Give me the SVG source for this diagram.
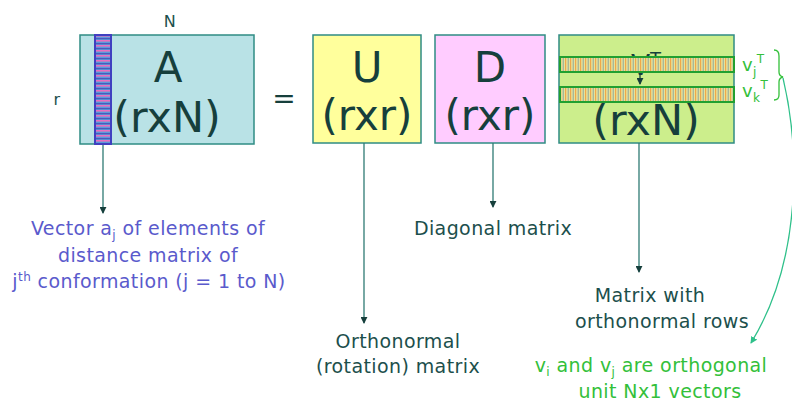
<svg xmlns="http://www.w3.org/2000/svg" width="792" height="404" viewBox="0 0 792 404">
<style>
.box{stroke:#2f8c84;stroke-width:1.5}
.big{font-family:"DejaVu Sans",sans-serif;font-size:42px;fill:#163f3c;text-anchor:middle}
.lbl{font-family:"DejaVu Sans",sans-serif;font-size:19px;letter-spacing:0.4px;fill:#1c4f4c;text-anchor:middle}
.blue{font-family:"DejaVu Sans",sans-serif;font-size:19px;letter-spacing:0.4px;fill:#5a5acc;text-anchor:middle}
.grn{font-family:"DejaVu Sans",sans-serif;font-size:19px;letter-spacing:0.4px;fill:#33c03a;text-anchor:middle}
.sub{font-size:12px}
.con{stroke:#2f7a74;stroke-width:1.3;fill:none}
</style>
<defs>
<marker id="ah" viewBox="0 0 8 8" refX="7" refY="4" markerWidth="7" markerHeight="7" orient="auto" markerUnits="userSpaceOnUse">
<path d="M0,0 L8,4 L0,8 z" fill="#163f3c"/>
</marker>
<marker id="ahg" viewBox="0 0 8 8" refX="7" refY="4" markerWidth="7" markerHeight="7" orient="auto" markerUnits="userSpaceOnUse">
<path d="M0,0 L8,4 L0,8 z" fill="#2fc08a"/>
</marker>
<pattern id="hstripe" width="16" height="5" patternUnits="userSpaceOnUse">
<rect width="16" height="5" fill="#5a9ad8"/>
<rect y="0" width="16" height="1.6" fill="#e870c0"/>
<rect y="3.2" width="16" height="1" fill="#4848b8"/>
</pattern>
<pattern id="vstripe" width="5" height="16" patternUnits="userSpaceOnUse">
<rect width="5" height="16" fill="#e6e29a"/>
<rect x="0" width="1.2" height="16" fill="#f0a848"/>
<rect x="2.6" width="1.4" height="16" fill="#a8b898"/>
</pattern>
</defs>

<g id="labels-axes">
<text x="170" y="27" class="lbl" style="font-size:16px">N</text>
<text x="57" y="105" class="lbl" style="font-size:16px">r</text>
<text x="284" y="108" class="big" style="font-size:28px">=</text>
</g>

<g id="A">
<rect class="box" x="80" y="35" width="174" height="109" fill="#b9e2e6"/>
<text x="168" y="82" class="big">A</text>
<text x="167" y="132" class="big" style="font-size:43px">(rxN)</text>
<rect x="95" y="35" width="16" height="109" fill="url(#hstripe)" stroke="#4040c0" stroke-width="2"/>
</g>

<g id="U">
<rect class="box" x="313" y="35" width="108" height="108" fill="#ffff9c"/>
<text x="367" y="82" class="big">U</text>
<text x="367" y="130" class="big">(rxr)</text>
</g>

<g id="D">
<rect class="box" x="435" y="35" width="110" height="108" fill="#ffccff"/>
<text x="490" y="82" class="big">D</text>
<text x="490" y="130" class="big">(rxr)</text>
</g>

<g id="VT">
<rect class="box" x="559" y="35" width="175" height="108" fill="#ccee8c"/>
<text x="646" y="75" class="big" style="font-size:28px">V<tspan dy="-10" style="font-size:18px">T</tspan></text>
<text x="646" y="135" class="big" style="font-size:43px">(rxN)</text>
<rect x="560" y="57" width="174" height="15" fill="url(#vstripe)" stroke="#22a030" stroke-width="2"/>
<rect x="560" y="87" width="174" height="15" fill="url(#vstripe)" stroke="#22a030" stroke-width="2"/>
<line x1="640" y1="73" x2="640" y2="84" stroke="#163f3c" stroke-width="1.3" marker-end="url(#ah)"/>
<text x="742" y="71" class="grn" style="text-anchor:start;font-size:18px">v<tspan class="sub" dy="5">j</tspan><tspan class="sub" dy="-13">T</tspan></text>
<text x="742" y="97" class="grn" style="text-anchor:start;font-size:18px">v<tspan class="sub" dy="5">k</tspan><tspan class="sub" dy="-13">T</tspan></text>
<path d="M774,50 Q779,50 779,56 L779,72 Q779,76 783,77 Q779,78 779,82 L779,95 Q779,100 774,100" fill="none" stroke="#33c03a" stroke-width="1.3"/>
</g>

<g id="connectors">
<line class="con" x1="103" y1="145" x2="103" y2="213" marker-end="url(#ah)"/>
<line class="con" x1="364" y1="143" x2="364" y2="323" marker-end="url(#ah)"/>
<line class="con" x1="493" y1="143" x2="493" y2="207" marker-end="url(#ah)"/>
<line class="con" x1="639" y1="143" x2="639" y2="272" marker-end="url(#ah)"/>
<path d="M783,78 C800,150 802,260 751,343" fill="none" stroke="#2fc08a" stroke-width="1.3" marker-end="url(#ahg)"/>
</g>

<g id="text-vector">
<text x="148" y="235" class="blue">Vector a<tspan class="sub" dy="4">j</tspan><tspan dy="-4"> of elements of</tspan></text>
<text x="148" y="262" class="blue">distance matrix of</text>
<text x="149" y="288" class="blue">j<tspan class="sub" dy="-7">th</tspan><tspan dy="7"> conformation (j = 1 to N)</tspan></text>
</g>

<g id="text-diagonal">
<text x="493" y="235" class="lbl">Diagonal matrix</text>
</g>

<g id="text-ortho">
<text x="398" y="348" class="lbl">Orthonormal</text>
<text x="398" y="373" class="lbl">(rotation) matrix</text>
</g>

<g id="text-rows">
<text x="650" y="302" class="lbl">Matrix with</text>
<text x="662" y="328" class="lbl">orthonormal rows</text>
</g>

<g id="text-green">
<text x="651" y="372" class="grn">v<tspan class="sub" dy="4">i</tspan><tspan dy="-4"> and v</tspan><tspan class="sub" dy="4">j</tspan><tspan dy="-4"> are orthogonal</tspan></text>
<text x="660" y="398" class="grn">unit Nx1 vectors</text>
</g>
</svg>
